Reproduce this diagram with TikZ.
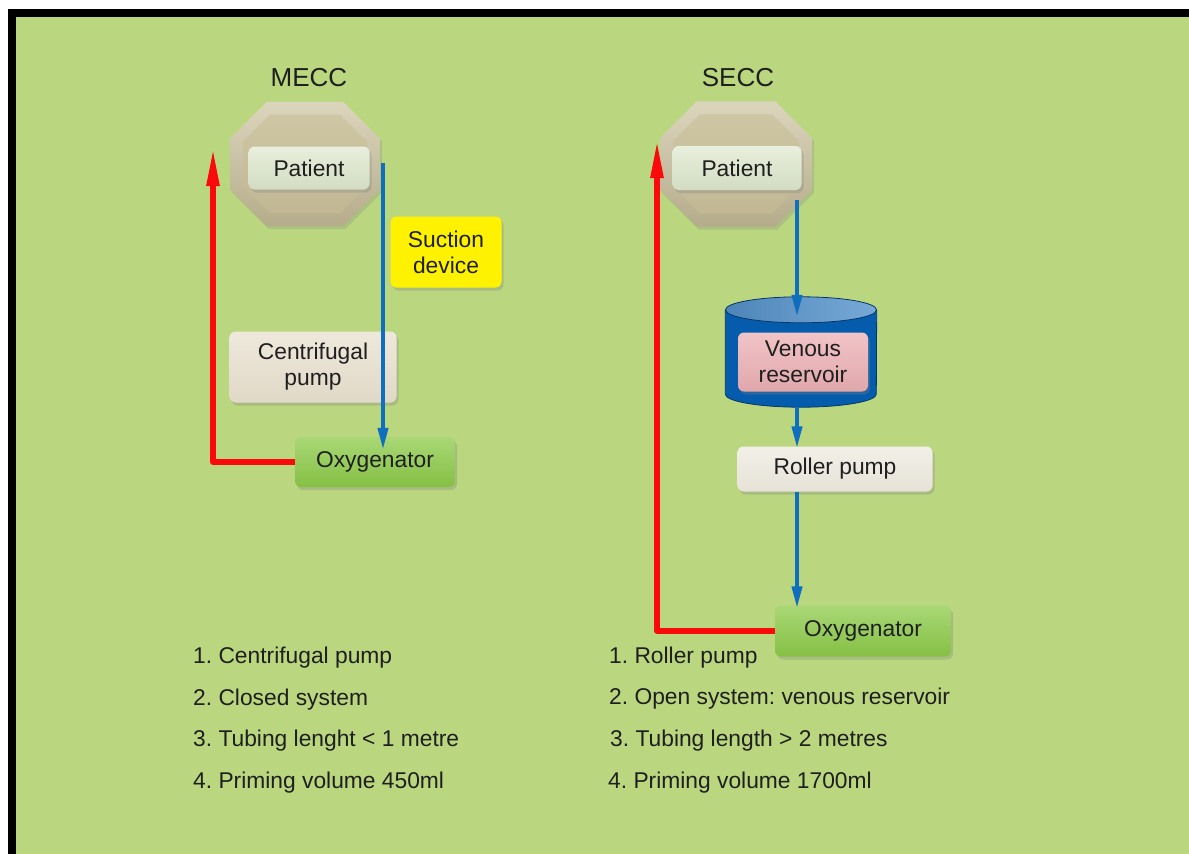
\documentclass[tikz,border=0pt]{standalone}
\usepackage{fontspec}
\setmainfont{Liberation Sans}
\usetikzlibrary{arrows.meta,shadows}

\definecolor{bggreen}{RGB}{186,215,128}
\definecolor{octtan}{RGB}{201,191,154}
\definecolor{patfill}{RGB}{222,232,205}
\definecolor{pumpfill}{RGB}{231,223,205}
\definecolor{rollfill}{RGB}{237,233,222}
\definecolor{oxyfill}{RGB}{140,202,72}
\definecolor{resvfill}{RGB}{236,176,180}
\definecolor{tankbody}{RGB}{6,92,172}
\definecolor{tanktop}{RGB}{86,148,205}
\definecolor{artred}{RGB}{250,10,10}
\definecolor{venblue}{RGB}{16,110,190}

% octagonal body behind a patient box, cut #2 (pt) from the frame node #1
\newcommand{\octbody}[3]{%
  \path[#3] ([xshift=#2]#1.north west) -- ([xshift=-#2]#1.north east)
    -- ([yshift=-#2]#1.north east) -- ([yshift=#2]#1.south east)
    -- ([xshift=-#2]#1.south east) -- ([xshift=#2]#1.south west)
    -- ([yshift=#2]#1.south west) -- ([yshift=-#2]#1.north west) -- cycle;}

\begin{document}
\frenchspacing
\begin{tikzpicture}[line cap=round,line join=round,x=1pt,y=-1pt,
    every node/.style={font=\fontsize{22.8}{26}\selectfont, text=black!88},
    title/.style={font=\fontsize{26}{30}\selectfont},
    frame/.style={inner sep=0pt},
    octouter/.style={top color=octtan!65!white, bottom color=octtan!90!black,
        drop shadow={opacity=0.25,shadow xshift=2pt,shadow yshift=-3pt}},
    octinner/.style={top color=octtan!90!white, bottom color=octtan!96!black},
    box/.style={rounded corners=6pt, inner sep=0pt, align=center,
        drop shadow={opacity=0.3,shadow xshift=2pt,shadow yshift=-3pt}},
    patbox/.style={box, top color=patfill!70!white, bottom color=patfill!95!black},
    pumpbox/.style={box, top color=pumpfill!70!white, bottom color=pumpfill!97!black},
    rollbox/.style={box, top color=rollfill!70!white, bottom color=rollfill!97!black},
    oxybox/.style={box, top color=oxyfill!75!white, bottom color=oxyfill!95!black},
    yelbox/.style={box, fill=yellow},
    resvbox/.style={box, top color=resvfill!75!white, bottom color=resvfill!95!black},
    redflow/.style={draw=artred, line width=5.5pt, line cap=butt, -{Triangle[length=38pt,width=12pt]}},
    blueflow/.style={draw=venblue, line width=4pt, line cap=butt, -{Triangle[length=22pt,width=10pt]}},
    item/.style={anchor=west, inner sep=0pt}]

    % frame
    \useasboundingbox (0,0) rectangle (1189,854);
    \fill[white] (0,0) rectangle (1189,854);
    \fill[black] (8,9) rectangle (1189,854);
    \fill[bggreen] (16,17) rectangle (1189,854);

    % MECC circuit
    \node[title] (mecc) at (309,78) {MECC};
    \node[frame, minimum width=150pt, minimum height=124pt] (meccbody) at (305,164) {};
    \node[frame, minimum width=124pt, minimum height=98pt] (meccface) at (305,164) {};
    \octbody{meccbody}{37pt}{octouter}
    \octbody{meccface}{27pt}{octinner}
    \node[patbox, minimum width=121pt, minimum height=43pt] (meccpat) at (309,168) {Patient};
    \node[yelbox, minimum width=111pt, minimum height=71pt] (suction) at (446,252) {Suction\\device};
    \node[pumpbox, minimum width=167pt, minimum height=71pt] (cpump) at (313,367) {Centrifugal\\pump};
    \node[oxybox, minimum width=160pt, minimum height=50pt] (meccoxy) at (375,462) {Oxygenator};
    \coordinate (meccout) at (383,163);
    \coordinate (meccret) at (213,148);
    \draw[blueflow] (meccout) -- ([yshift=-13pt]meccout |- meccoxy.north);
    \draw[redflow] (meccoxy.west) -| (meccret);

    % SECC circuit
    \node[title] (secc) at (738,78) {SECC};
    \node[frame, minimum width=152pt, minimum height=125pt] (seccbody) at (736,164) {};
    \node[frame, minimum width=126pt, minimum height=99pt] (seccface) at (736,164) {};
    \octbody{seccbody}{37pt}{octouter}
    \octbody{seccface}{27pt}{octinner}
    \node[patbox, minimum width=129pt, minimum height=44pt] (seccpat) at (737,168) {Patient};
    \node[frame, minimum width=151pt, minimum height=110pt] (tank) at (801,352) {};
    \fill[tankbody, draw=tankbody!60!black, line width=0.8pt]
        ([yshift=-13pt]tank.north west) -- ([yshift=13pt]tank.south west)
        arc[start angle=180, end angle=360, x radius=75.5pt, y radius=13pt]
        -- ([yshift=-13pt]tank.north east) -- cycle;
    \shade[left color=tanktop!90!black, right color=tanktop!80!white, draw=tankbody!60!black, line width=0.8pt]
        ([yshift=-13pt]tank.north) ellipse[x radius=75.5pt, y radius=13pt];
    \node[resvbox, minimum width=130pt, minimum height=59pt] (resv) at (803,362) {Venous\\reservoir};
    \node[rollbox, minimum width=195pt, minimum height=45pt] (rpump) at (835,469) {Roller pump};
    \node[oxybox, minimum width=176pt, minimum height=51pt] (seccoxy) at (863,631) {Oxygenator};
    \coordinate (seccout) at (797,200);
    \coordinate (seccret) at (657,140);
    \draw[blueflow] (seccout) -- ([yshift=-20pt]seccout |- tank.north);
    \draw[blueflow] (seccout |- tank.south) -- ([yshift=-2pt]seccout |- rpump.north);
    \draw[blueflow] (seccout |- rpump.south) -- ([yshift=-3pt]seccout |- seccoxy.north);
    \draw[redflow] (seccoxy.west) -| (seccret);

    % features
    \node[item] (mecc1) at (193,658) {1. Centrifugal pump};
    \node[item] (mecc2) at (193,700) {2. Closed system};
    \node[item] (mecc3) at (193,741) {3. Tubing lenght < 1 metre};
    \node[item] (mecc4) at (193,783) {4. Priming volume 450ml};
    \node[item] (secc1) at (609,658) {1. Roller pump};
    \node[item] (secc2) at (609,699) {2. Open system: venous reservoir};
    \node[item] (secc3) at (610,741) {3. Tubing length > 2 metres};
    \node[item] (secc4) at (608,783) {4. Priming volume 1700ml};
\end{tikzpicture}
\end{document}
